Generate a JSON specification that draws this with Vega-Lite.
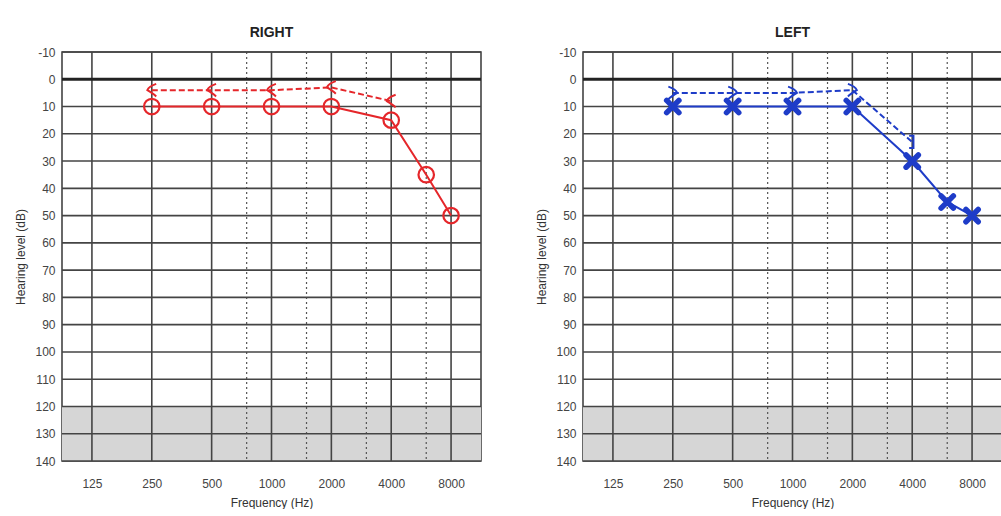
{
  "$schema": "https://vega.github.io/schema/vega-lite/v6.json",
  "background": "white",
  "padding": {"left": 14, "top": 25, "right": 0, "bottom": 0},
  "bounds": "flush",
  "spacing": 102,
  "datasets": {
    "band": [{"lo": 120, "hi": 140}],
    "xgrid": [{"f": 125}, {"f": 250}, {"f": 500}, {"f": 1000}, {"f": 2000}, {"f": 4000}, {"f": 8000}],
    "dots": [{"f": 750}, {"f": 1500}, {"f": 3000}, {"f": 6000}],
    "ygrid": [{"db": -10}, {"db": 10}, {"db": 20}, {"db": 30}, {"db": 40}, {"db": 50}, {"db": 60}, {"db": 70}, {"db": 80}, {"db": 90}, {"db": 100}, {"db": 110}, {"db": 120}, {"db": 130}, {"db": 140}],
    "zero": [{"db": 0}],
    "audio": [
      {"ear": "R", "type": "AC", "f": 250, "db": 10, "masked": false},
      {"ear": "R", "type": "AC", "f": 500, "db": 10, "masked": false},
      {"ear": "R", "type": "AC", "f": 1000, "db": 10, "masked": false},
      {"ear": "R", "type": "AC", "f": 2000, "db": 10, "masked": false},
      {"ear": "R", "type": "AC", "f": 4000, "db": 15, "masked": false},
      {"ear": "R", "type": "AC", "f": 6000, "db": 35, "masked": false},
      {"ear": "R", "type": "AC", "f": 8000, "db": 50, "masked": false},
      {"ear": "R", "type": "BC", "f": 250, "db": 4, "masked": false},
      {"ear": "R", "type": "BC", "f": 500, "db": 4, "masked": false},
      {"ear": "R", "type": "BC", "f": 1000, "db": 4, "masked": false},
      {"ear": "R", "type": "BC", "f": 2000, "db": 3, "masked": false},
      {"ear": "R", "type": "BC", "f": 4000, "db": 8, "masked": false},
      {"ear": "L", "type": "AC", "f": 250, "db": 10, "masked": false},
      {"ear": "L", "type": "AC", "f": 500, "db": 10, "masked": false},
      {"ear": "L", "type": "AC", "f": 1000, "db": 10, "masked": false},
      {"ear": "L", "type": "AC", "f": 2000, "db": 10, "masked": false},
      {"ear": "L", "type": "AC", "f": 4000, "db": 30, "masked": false},
      {"ear": "L", "type": "AC", "f": 6000, "db": 45, "masked": false},
      {"ear": "L", "type": "AC", "f": 8000, "db": 50, "masked": false},
      {"ear": "L", "type": "BC", "f": 250, "db": 5, "masked": false},
      {"ear": "L", "type": "BC", "f": 500, "db": 5, "masked": false},
      {"ear": "L", "type": "BC", "f": 1000, "db": 5, "masked": false},
      {"ear": "L", "type": "BC", "f": 2000, "db": 4, "masked": false},
      {"ear": "L", "type": "BC", "f": 4000, "db": 23, "masked": true}
    ]
  },
  "hconcat": [
    {
      "width": 419,
      "height": 409,
      "title": {"text": "RIGHT"},
      "layer": [
        {
          "data": {"name": "band"},
          "mark": {"type": "rect", "fill": "#d6d6d6"},
          "encoding": {
            "x": {"datum": 88.388, "type": "quantitative", "scale": {"type": "log", "base": 2, "domain": [88.388, 11313.7], "nice": false}, "axis": {"values": [125, 250, 500, 1000, 2000, 4000, 8000], "format": "d", "title": "Frequency (Hz)"}},
            "x2": {"datum": 11313.7},
            "y": {"field": "lo", "type": "quantitative", "scale": {"domain": [-10, 140], "reverse": true, "nice": false, "zero": false}, "axis": {"values": [-10, 0, 10, 20, 30, 40, 50, 60, 70, 80, 90, 100, 110, 120, 130, 140], "format": "d", "title": "Hearing level (dB)"}},
            "y2": {"field": "hi"}
          }
        },
        {
          "data": {"name": "xgrid"},
          "mark": {"type": "rule", "stroke": "#444", "strokeWidth": 1.6},
          "encoding": {"x": {"field": "f", "type": "quantitative", "scale": {"type": "log", "base": 2, "domain": [88.388, 11313.7], "nice": false}, "axis": {"values": [125, 250, 500, 1000, 2000, 4000, 8000], "format": "d", "title": "Frequency (Hz)"}}}
        },
        {
          "data": {"name": "dots"},
          "mark": {"type": "rule", "stroke": "#555", "strokeWidth": 1.2, "strokeDash": [2, 3]},
          "encoding": {"x": {"field": "f", "type": "quantitative", "scale": {"type": "log", "base": 2, "domain": [88.388, 11313.7], "nice": false}, "axis": {"values": [125, 250, 500, 1000, 2000, 4000, 8000], "format": "d", "title": "Frequency (Hz)"}}}
        },
        {
          "data": {"name": "ygrid"},
          "mark": {"type": "rule", "stroke": "#444", "strokeWidth": 1.6},
          "encoding": {"y": {"field": "db", "type": "quantitative", "scale": {"domain": [-10, 140], "reverse": true, "nice": false, "zero": false}, "axis": {"values": [-10, 0, 10, 20, 30, 40, 50, 60, 70, 80, 90, 100, 110, 120, 130, 140], "format": "d", "title": "Hearing level (dB)"}}}
        },
        {
          "data": {"name": "zero"},
          "mark": {"type": "rule", "stroke": "#222", "strokeWidth": 3},
          "encoding": {"y": {"field": "db", "type": "quantitative", "scale": {"domain": [-10, 140], "reverse": true, "nice": false, "zero": false}, "axis": {"values": [-10, 0, 10, 20, 30, 40, 50, 60, 70, 80, 90, 100, 110, 120, 130, 140], "format": "d", "title": "Hearing level (dB)"}}}
        },
        {
          "data": {"name": "audio"},
          "transform": [{"filter": "datum.ear == 'R' && datum.type == 'AC'"}],
          "mark": {"type": "line", "stroke": "#e5262a", "strokeWidth": 2},
          "encoding": {
            "x": {"field": "f", "type": "quantitative", "scale": {"type": "log", "base": 2, "domain": [88.388, 11313.7], "nice": false}, "axis": {"values": [125, 250, 500, 1000, 2000, 4000, 8000], "format": "d", "title": "Frequency (Hz)"}},
            "y": {"field": "db", "type": "quantitative", "scale": {"domain": [-10, 140], "reverse": true, "nice": false, "zero": false}, "axis": {"values": [-10, 0, 10, 20, 30, 40, 50, 60, 70, 80, 90, 100, 110, 120, 130, 140], "format": "d", "title": "Hearing level (dB)"}}
          }
        },
        {
          "data": {"name": "audio"},
          "transform": [{"filter": "datum.ear == 'R' && datum.type == 'BC'"}],
          "mark": {"type": "line", "stroke": "#e5262a", "strokeWidth": 2, "strokeDash": [6, 3]},
          "encoding": {
            "x": {"field": "f", "type": "quantitative", "scale": {"type": "log", "base": 2, "domain": [88.388, 11313.7], "nice": false}, "axis": {"values": [125, 250, 500, 1000, 2000, 4000, 8000], "format": "d", "title": "Frequency (Hz)"}},
            "y": {"field": "db", "type": "quantitative", "scale": {"domain": [-10, 140], "reverse": true, "nice": false, "zero": false}, "axis": {"values": [-10, 0, 10, 20, 30, 40, 50, 60, 70, 80, 90, 100, 110, 120, 130, 140], "format": "d", "title": "Hearing level (dB)"}}
          }
        },
        {
          "data": {"name": "audio"},
          "transform": [{"filter": "datum.ear == 'R' && datum.type == 'AC'"}],
          "mark": {"type": "point", "shape": "circle", "size": 240, "filled": false, "fill": "white", "fillOpacity": 0, "stroke": "#e5262a", "strokeWidth": 2.2, "opacity": 1},
          "encoding": {
            "x": {"field": "f", "type": "quantitative", "scale": {"type": "log", "base": 2, "domain": [88.388, 11313.7], "nice": false}, "axis": {"values": [125, 250, 500, 1000, 2000, 4000, 8000], "format": "d", "title": "Frequency (Hz)"}},
            "y": {"field": "db", "type": "quantitative", "scale": {"domain": [-10, 140], "reverse": true, "nice": false, "zero": false}, "axis": {"values": [-10, 0, 10, 20, 30, 40, 50, 60, 70, 80, 90, 100, 110, 120, 130, 140], "format": "d", "title": "Hearing level (dB)"}}
          }
        },
        {
          "data": {"name": "audio"},
          "transform": [{"filter": "datum.ear == 'R' && datum.type == 'BC'"}],
          "mark": {"type": "point", "shape": "M 0.7 -1 C 0.1 -0.8 -0.5 -0.5 -0.7 0 C -0.2 0.3 0.3 0.6 0.7 1", "size": 160, "filled": false, "stroke": "#e5262a", "strokeWidth": 2, "opacity": 1},
          "encoding": {
            "x": {"field": "f", "type": "quantitative", "scale": {"type": "log", "base": 2, "domain": [88.388, 11313.7], "nice": false}, "axis": {"values": [125, 250, 500, 1000, 2000, 4000, 8000], "format": "d", "title": "Frequency (Hz)"}},
            "y": {"field": "db", "type": "quantitative", "scale": {"domain": [-10, 140], "reverse": true, "nice": false, "zero": false}, "axis": {"values": [-10, 0, 10, 20, 30, 40, 50, 60, 70, 80, 90, 100, 110, 120, 130, 140], "format": "d", "title": "Hearing level (dB)"}}
          }
        }
      ]
    },
    {
      "width": 419,
      "height": 409,
      "title": {"text": "LEFT"},
      "layer": [
        {
          "data": {"name": "band"},
          "mark": {"type": "rect", "fill": "#d6d6d6"},
          "encoding": {
            "x": {"datum": 88.388, "type": "quantitative", "scale": {"type": "log", "base": 2, "domain": [88.388, 11313.7], "nice": false}, "axis": {"values": [125, 250, 500, 1000, 2000, 4000, 8000], "format": "d", "title": "Frequency (Hz)"}},
            "x2": {"datum": 11313.7},
            "y": {"field": "lo", "type": "quantitative", "scale": {"domain": [-10, 140], "reverse": true, "nice": false, "zero": false}, "axis": {"values": [-10, 0, 10, 20, 30, 40, 50, 60, 70, 80, 90, 100, 110, 120, 130, 140], "format": "d", "title": "Hearing level (dB)"}},
            "y2": {"field": "hi"}
          }
        },
        {
          "data": {"name": "xgrid"},
          "mark": {"type": "rule", "stroke": "#444", "strokeWidth": 1.6},
          "encoding": {"x": {"field": "f", "type": "quantitative", "scale": {"type": "log", "base": 2, "domain": [88.388, 11313.7], "nice": false}, "axis": {"values": [125, 250, 500, 1000, 2000, 4000, 8000], "format": "d", "title": "Frequency (Hz)"}}}
        },
        {
          "data": {"name": "dots"},
          "mark": {"type": "rule", "stroke": "#555", "strokeWidth": 1.2, "strokeDash": [2, 3]},
          "encoding": {"x": {"field": "f", "type": "quantitative", "scale": {"type": "log", "base": 2, "domain": [88.388, 11313.7], "nice": false}, "axis": {"values": [125, 250, 500, 1000, 2000, 4000, 8000], "format": "d", "title": "Frequency (Hz)"}}}
        },
        {
          "data": {"name": "ygrid"},
          "mark": {"type": "rule", "stroke": "#444", "strokeWidth": 1.6},
          "encoding": {"y": {"field": "db", "type": "quantitative", "scale": {"domain": [-10, 140], "reverse": true, "nice": false, "zero": false}, "axis": {"values": [-10, 0, 10, 20, 30, 40, 50, 60, 70, 80, 90, 100, 110, 120, 130, 140], "format": "d", "title": "Hearing level (dB)"}}}
        },
        {
          "data": {"name": "zero"},
          "mark": {"type": "rule", "stroke": "#222", "strokeWidth": 3},
          "encoding": {"y": {"field": "db", "type": "quantitative", "scale": {"domain": [-10, 140], "reverse": true, "nice": false, "zero": false}, "axis": {"values": [-10, 0, 10, 20, 30, 40, 50, 60, 70, 80, 90, 100, 110, 120, 130, 140], "format": "d", "title": "Hearing level (dB)"}}}
        },
        {
          "data": {"name": "audio"},
          "transform": [{"filter": "datum.ear == 'L' && datum.type == 'AC'"}],
          "mark": {"type": "line", "stroke": "#1e3cc8", "strokeWidth": 2},
          "encoding": {
            "x": {"field": "f", "type": "quantitative", "scale": {"type": "log", "base": 2, "domain": [88.388, 11313.7], "nice": false}, "axis": {"values": [125, 250, 500, 1000, 2000, 4000, 8000], "format": "d", "title": "Frequency (Hz)"}},
            "y": {"field": "db", "type": "quantitative", "scale": {"domain": [-10, 140], "reverse": true, "nice": false, "zero": false}, "axis": {"values": [-10, 0, 10, 20, 30, 40, 50, 60, 70, 80, 90, 100, 110, 120, 130, 140], "format": "d", "title": "Hearing level (dB)"}}
          }
        },
        {
          "data": {"name": "audio"},
          "transform": [{"filter": "datum.ear == 'L' && datum.type == 'BC'"}],
          "mark": {"type": "line", "stroke": "#1e3cc8", "strokeWidth": 2, "strokeDash": [6, 3]},
          "encoding": {
            "x": {"field": "f", "type": "quantitative", "scale": {"type": "log", "base": 2, "domain": [88.388, 11313.7], "nice": false}, "axis": {"values": [125, 250, 500, 1000, 2000, 4000, 8000], "format": "d", "title": "Frequency (Hz)"}},
            "y": {"field": "db", "type": "quantitative", "scale": {"domain": [-10, 140], "reverse": true, "nice": false, "zero": false}, "axis": {"values": [-10, 0, 10, 20, 30, 40, 50, 60, 70, 80, 90, 100, 110, 120, 130, 140], "format": "d", "title": "Hearing level (dB)"}}
          }
        },
        {
          "data": {"name": "audio"},
          "transform": [{"filter": "datum.ear == 'L' && datum.type == 'AC'"}],
          "mark": {"type": "point", "shape": "M -1 -1 L 1 1 M 1 -1 L -1 1", "size": 150, "filled": false, "stroke": "#1e3cc8", "strokeWidth": 5.5, "strokeCap": "round", "opacity": 1},
          "encoding": {
            "x": {"field": "f", "type": "quantitative", "scale": {"type": "log", "base": 2, "domain": [88.388, 11313.7], "nice": false}, "axis": {"values": [125, 250, 500, 1000, 2000, 4000, 8000], "format": "d", "title": "Frequency (Hz)"}},
            "y": {"field": "db", "type": "quantitative", "scale": {"domain": [-10, 140], "reverse": true, "nice": false, "zero": false}, "axis": {"values": [-10, 0, 10, 20, 30, 40, 50, 60, 70, 80, 90, 100, 110, 120, 130, 140], "format": "d", "title": "Hearing level (dB)"}}
          }
        },
        {
          "data": {"name": "audio"},
          "transform": [{"filter": "datum.ear == 'L' && datum.type == 'BC' && !datum.masked"}],
          "mark": {"type": "point", "shape": "M -0.7 -1 C -0.1 -0.8 0.5 -0.5 0.7 0 C 0.2 0.3 -0.3 0.6 -0.7 1", "size": 160, "filled": false, "stroke": "#1e3cc8", "strokeWidth": 2, "opacity": 1},
          "encoding": {
            "x": {"field": "f", "type": "quantitative", "scale": {"type": "log", "base": 2, "domain": [88.388, 11313.7], "nice": false}, "axis": {"values": [125, 250, 500, 1000, 2000, 4000, 8000], "format": "d", "title": "Frequency (Hz)"}},
            "y": {"field": "db", "type": "quantitative", "scale": {"domain": [-10, 140], "reverse": true, "nice": false, "zero": false}, "axis": {"values": [-10, 0, 10, 20, 30, 40, 50, 60, 70, 80, 90, 100, 110, 120, 130, 140], "format": "d", "title": "Hearing level (dB)"}}
          }
        },
        {
          "data": {"name": "audio"},
          "transform": [{"filter": "datum.ear == 'L' && datum.type == 'BC' && datum.masked"}],
          "mark": {"type": "point", "shape": "M -0.5 -1 L 0.2 -1 L 0.2 1 L -0.5 1", "size": 150, "filled": false, "stroke": "#1e3cc8", "strokeWidth": 2, "opacity": 1},
          "encoding": {
            "x": {"field": "f", "type": "quantitative", "scale": {"type": "log", "base": 2, "domain": [88.388, 11313.7], "nice": false}, "axis": {"values": [125, 250, 500, 1000, 2000, 4000, 8000], "format": "d", "title": "Frequency (Hz)"}},
            "y": {"field": "db", "type": "quantitative", "scale": {"domain": [-10, 140], "reverse": true, "nice": false, "zero": false}, "axis": {"values": [-10, 0, 10, 20, 30, 40, 50, 60, 70, 80, 90, 100, 110, 120, 130, 140], "format": "d", "title": "Hearing level (dB)"}}
          }
        }
      ]
    }
  ],
  "config": {
    "view": {"stroke": "#444", "strokeWidth": 1.6},
    "title": {"font": "Liberation Sans", "fontSize": 14, "fontWeight": "bold", "color": "#222", "offset": 6, "anchor": "middle"},
    "axis": {"labelFont": "Liberation Sans", "labelFontSize": 12, "labelColor": "#444", "titleFont": "Liberation Sans", "titleFontSize": 12, "titleFontWeight": "normal", "titleColor": "#333", "domain": false, "ticks": false, "grid": false},
    "axisX": {"labelPadding": 17, "titlePadding": 8},
    "axisY": {"labelPadding": 7, "titlePadding": 7, "labelExpr": "'' + datum.value"}
  }
}
